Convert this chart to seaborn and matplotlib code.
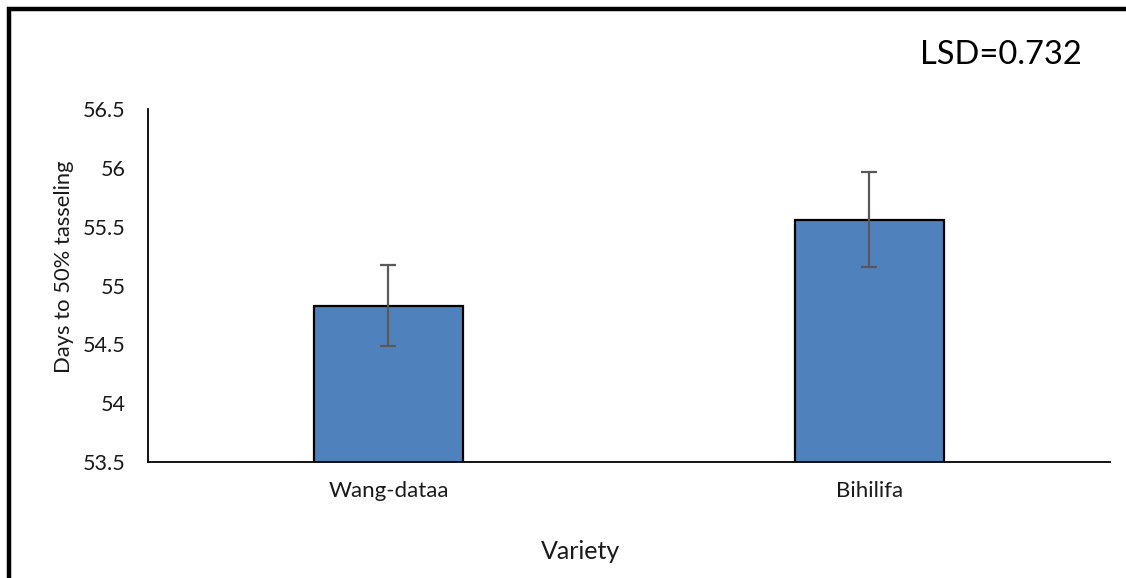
import matplotlib
matplotlib.use("Agg")
import matplotlib.pyplot as plt
import seaborn as sns
import pandas as pd
from matplotlib.patches import Rectangle

varieties = ["Wang-dataa", "Bihilifa"]
days_to_tasseling = [54.83, 55.56]
std_error = [0.345, 0.405]
lsd_value = 0.732

sns.set_theme(style="white")
plt.rcParams["font.family"] = ["Lato", "DejaVu Sans"]

df = pd.DataFrame({"Variety": varieties, "Days": days_to_tasseling})

fig = plt.figure(figsize=(11.26, 5.78), dpi=100)
ax = fig.add_axes([0.1314, 0.2007, 0.8544, 0.6107])

sns.barplot(data=df, x="Variety", y="Days", color="#4F81BD", saturation=1,
            width=0.31, edgecolor="black", linewidth=1.6, errorbar=None, ax=ax)
ax.errorbar(range(len(varieties)), days_to_tasseling, yerr=std_error, fmt="none",
            ecolor="#595959", elinewidth=1.6, capsize=6, capthick=1.6, zorder=5)

ax.set_ylim(53.5, 56.5)
ax.set_xlim(-0.5, 1.5)
ax.set_yticks([53.5, 54, 54.5, 55, 55.5, 56, 56.5])
ax.set_yticklabels(["53.5", "54", "54.5", "55", "55.5", "56", "56.5"])
ax.tick_params(axis="y", labelsize=15.5, length=0, pad=16, colors="#1a1a1a")
ax.tick_params(axis="x", labelsize=16, length=0, pad=14, colors="#1a1a1a")
for side in ("top", "right"):
    ax.spines[side].set_visible(False)
for side in ("left", "bottom"):
    ax.spines[side].set_color("black")
    ax.spines[side].set_linewidth(1.3)

ax.set_xlabel("")
ax.set_ylabel("")
fig.text(0.516, 0.046, "Variety", ha="center", va="center", fontsize=18, color="#1a1a1a")
fig.text(0.057, 0.538, "Days to 50% tasseling", ha="center", va="center",
         rotation=90, fontsize=15.8, color="#1a1a1a")
fig.text(0.889, 0.905, f"LSD={lsd_value}", ha="center", va="center", fontsize=23.5, color="black")

fig.patches.append(Rectangle((0.0084, -0.05), 1.1, 1.0336, transform=fig.transFigure,
                             fill=False, edgecolor="black", linewidth=3.2))

fig.savefig("out.png", dpi=100)
